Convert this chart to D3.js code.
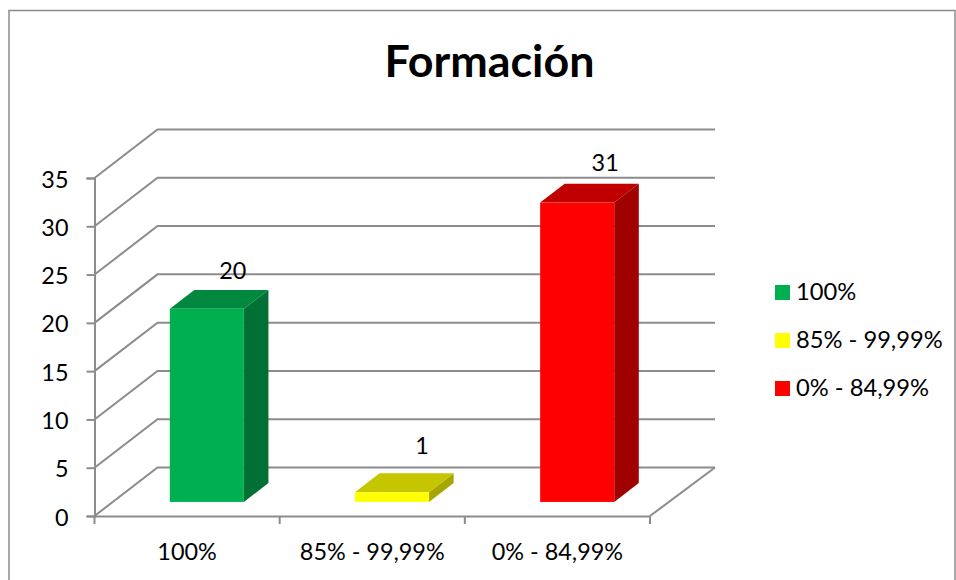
<!DOCTYPE html>
<html>
<head>
<meta charset="utf-8">
<script src="https://cdn.jsdelivr.net/npm/d3@7"></script>
<style>
  html, body { margin: 0; padding: 0; background: #fff; overflow: hidden; }
  text { font-family: Lato, "Open Sans", sans-serif; fill: #000; }
</style>
</head>
<body>
<div id="chart"></div>
<script>
var categories = ["100%", "85% - 99,99%", "0% - 84,99%"];
var values = [20, 1, 31];
var yTicks = [0, 5, 10, 15, 20, 25, 30, 35];
var frontColors = ["#00b050", "#ffff00", "#ff0000"];
var topColors = ["#00893e", "#c6c600", "#c00000"];
var sideColors = ["#007034", "#a6a600", "#a00000"];

var svgWidth = 956;
var svgHeight = 580;
var gridColor = "#8c8c8c";

// the plot floor starts here, the back wall is shifted by depthX / depthY
var left = 94.5, right = 650, bottom = 516, top35 = 178;
var depthX = 63, depthY = 48.5;
// bar sits between these fractions of the floor depth
var barNear = 0.29, barFar = 0.68;
var barShift = 1.5;

var svg = d3.select("#chart").append("svg")
  .attr("width", svgWidth)
  .attr("height", svgHeight);

// chart border
svg.append("rect")
  .attr("x", 9).attr("y", 10.5)
  .attr("width", 946).attr("height", 600)
  .attr("fill", "#fff")
  .attr("stroke", gridColor)
  .attr("stroke-width", 1.5);

svg.append("text")
  .attr("x", 489.5).attr("y", 77)
  .attr("text-anchor", "middle")
  .attr("font-size", "44.8px")
  .attr("font-weight", "bold")
  .text("Formación");

var x = d3.scaleBand().domain(categories).range([left, right]).paddingInner(0.6).paddingOuter(0.3);
var y = d3.scaleLinear().domain([0, 35]).range([bottom, top35]);

// walls: diagonal plus back line for every tick
var line = d3.line();
svg.append("g").selectAll("path")
  .data(yTicks)
  .enter()
  .append("path")
  .attr("d", d => line([[left, y(d)], [left + depthX, y(d) - depthY], [right + depthX + 2, y(d) - depthY]]))
  .attr("fill", "none")
  .attr("stroke", gridColor)
  .attr("stroke-width", 2);

// floor right edge
svg.append("path")
  .attr("d", line([[right, bottom], [right + depthX + 2, bottom - depthY]]))
  .attr("fill", "none")
  .attr("stroke", gridColor)
  .attr("stroke-width", 2);

// axes
var leftAxis = d3.axisLeft(y).tickValues(yTicks).tickSize(8).tickPadding(18);
var axisY = svg.append("g").attr("transform", `translate(${left},0)`).call(leftAxis);
axisY.selectAll("path, line").attr("stroke", gridColor).attr("stroke-width", 2);
axisY.selectAll("text").attr("font-size", "23.4px").attr("fill", "#000").attr("y", 1.5);

var bottomAxis = d3.axisBottom(x).tickSize(0).tickPadding(27);
var axisX = svg.append("g").attr("transform", `translate(0,${bottom})`).call(bottomAxis);
axisX.select("path").attr("stroke", gridColor).attr("stroke-width", 2);
axisX.selectAll("text").attr("font-size", "23.4px").attr("fill", "#000");

// tick marks between the categories
svg.append("g").selectAll("line")
  .data(d3.range(categories.length + 1))
  .enter()
  .append("line")
  .attr("x1", d => left + d * x.step())
  .attr("x2", d => left + d * x.step())
  .attr("y1", bottom)
  .attr("y2", bottom + 8)
  .attr("stroke", gridColor)
  .attr("stroke-width", 2);

// bars
var bars = svg.append("g").selectAll("g")
  .data(categories)
  .enter()
  .append("g");

function face(corners) {
  return line(corners) + "Z";
}
function px(xv, d) { return xv + barShift + d * depthX; }
function py(v, d) { return y(v) - d * depthY; }

bars.append("path") // side
  .attr("fill", (d, i) => sideColors[i])
  .attr("d", (d, i) => {
    var xr = x(d) + x.bandwidth();
    return face([[px(xr, barNear), py(0, barNear)], [px(xr, barFar), py(0, barFar)],
      [px(xr, barFar), py(values[i], barFar)], [px(xr, barNear), py(values[i], barNear)]]);
  });

bars.append("path") // top
  .attr("fill", (d, i) => topColors[i])
  .attr("d", (d, i) => {
    var xl = x(d), xr = xl + x.bandwidth();
    return face([[px(xl, barNear), py(values[i], barNear)], [px(xl, barFar), py(values[i], barFar)],
      [px(xr, barFar), py(values[i], barFar)], [px(xr, barNear), py(values[i], barNear)]]);
  });

bars.append("rect") // front
  .attr("fill", (d, i) => frontColors[i])
  .attr("x", d => px(x(d), barNear))
  .attr("y", (d, i) => py(values[i], barNear))
  .attr("width", x.bandwidth())
  .attr("height", (d, i) => y(0) - y(values[i]));

// value labels, each nudged by hand like in the original
var labelNudgeX = [26, 30, 28];
var labelNudgeY = [-11, -19, -13];
bars.append("text")
  .attr("x", (d, i) => px(x(d), barNear) + x.bandwidth() / 2 + labelNudgeX[i])
  .attr("y", (d, i) => py(values[i], barFar) + labelNudgeY[i])
  .attr("text-anchor", "middle")
  .attr("font-size", "23.4px")
  .text((d, i) => values[i]);

// legend
var legend = svg.append("g").selectAll("g")
  .data(categories)
  .enter()
  .append("g")
  .attr("transform", (d, i) => `translate(775,${285 + i * 48})`);

legend.append("rect")
  .attr("width", 15)
  .attr("height", 15)
  .attr("fill", (d, i) => frontColors[i]);

legend.append("text")
  .attr("x", 21)
  .attr("y", 15)
  .attr("font-size", "23.7px")
  .text(d => d);
</script>
</body>
</html>
